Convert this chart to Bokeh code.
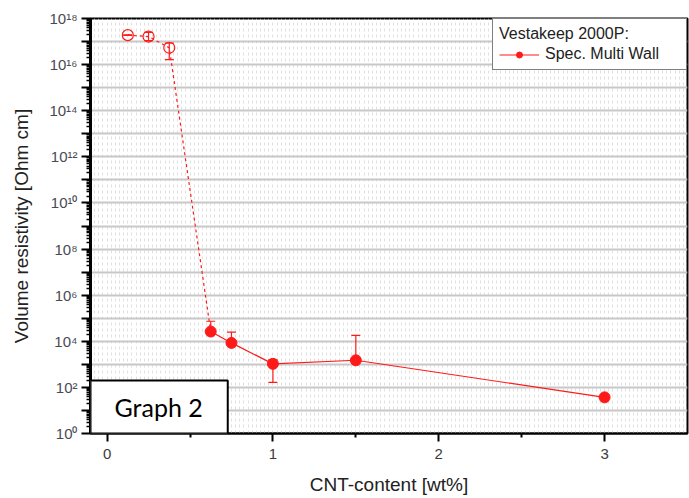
import numpy as np
from bokeh.plotting import figure
from bokeh.models import (Range1d, FixedTicker, CustomJSTickFormatter, Whisker, TeeHead,
                          ColumnDataSource, Legend, LegendItem, Label)
from bokeh.embed import file_html
from bokeh.resources import INLINE

# ---- data ----
open_x = [0.125, 0.25, 0.375]
open_y = [1.9e17, 1.65e17, 5.4e16]
open_lo = [1.85e17, 1.1e17, 1.65e16]
open_hi = [1.95e17, 2.5e17, 8.5e16]

filled_x = [0.625, 0.75, 1.0, 1.5, 3.0]
filled_y = [2.65e4, 8.5e3, 1.05e3, 1.5e3, 37.0]
filled_lo = [2.65e4, 8.5e3, 1.66e2, 1.5e3, 37.0]
filled_hi = [7.4e4, 2.5e4, 1.6e3, 1.8e4, 37.0]

x_ticks = [0, 1, 2, 3]
x_minor = [0.5, 1.5, 2.5]
y_exponents = list(range(0, 19))
y_tick_labels = ["10⁰", "", "10²", "", "10⁴", "", "10⁶", "", "10⁸", "",
                 "10¹⁰", "", "10¹²", "", "10¹⁴", "", "10¹⁶", "", "10¹⁸"]

legend_title = "Vestakeep 2000P:"
legend_label = "Spec. Multi Wall"
x_label = "CNT-content [wt%]"
y_label = "Volume resistivity [Ohm cm]"
graph_tag = "Graph 2"

RED = "#ff1a1a"

p = figure(width=689, height=498, y_axis_type="log",
           x_range=Range1d(-0.1, 3.5), y_range=Range1d(1, 1e18),
           output_backend="svg", toolbar_location=None,
           min_border_left=90, min_border_right=2, min_border_top=18, min_border_bottom=65)
p.background_fill_color = "white"
p.outline_line_color = "black"
p.outline_line_width = 2

# axes
label_font = "Liberation Sans"
p.xaxis.ticker = FixedTicker(ticks=x_ticks, minor_ticks=x_minor)
p.xaxis.axis_line_width = 2
p.xaxis.major_tick_out = 8
p.xaxis.major_tick_in = 0
p.xaxis.minor_tick_out = 4
p.xaxis.minor_tick_in = 0
p.xaxis.major_tick_line_width = 2
p.xaxis.minor_tick_line_width = 2
p.xaxis.major_label_text_font = label_font
p.xaxis.major_label_text_font_size = "15px"
p.xaxis.major_label_text_color = "#3c3c3c"
p.xaxis.major_label_standoff = 7
p.xaxis.axis_label = x_label
p.xaxis.axis_label_text_font = label_font
p.xaxis.axis_label_text_font_style = "normal"
p.xaxis.axis_label_text_font_size = "19px"
p.xaxis.axis_label_text_color = "#222222"
p.xaxis.axis_label_standoff = 12

p.yaxis.ticker = FixedTicker(ticks=[10.0 ** k for k in y_exponents],
                             minor_ticks=[m * 10.0 ** k for k in y_exponents[:-1] for m in range(2, 10)])
p.yaxis.formatter = CustomJSTickFormatter(args=dict(labels=y_tick_labels),
                                          code="const e = Math.round(Math.log10(tick)); const s = labels[e]; return (s === undefined) ? '' : s;")
p.yaxis.axis_line_width = 3
p.yaxis.major_tick_out = 9
p.yaxis.major_tick_in = 0
p.yaxis.minor_tick_out = 4
p.yaxis.minor_tick_in = 0
p.yaxis.major_tick_line_width = 2
p.yaxis.minor_tick_line_width = 1.5
p.yaxis.major_label_text_font = label_font
p.yaxis.major_label_text_font_size = "15px"
p.yaxis.major_label_text_color = "#4a4a55"
p.yaxis.major_label_standoff = 4
p.yaxis.axis_label = y_label
p.yaxis.axis_label_text_font = label_font
p.yaxis.axis_label_text_font_style = "normal"
p.yaxis.axis_label_text_font_size = "19px"
p.yaxis.axis_label_text_color = "#222222"
p.yaxis.axis_label_standoff = 14

# grids
p.ygrid.ticker = FixedTicker(ticks=[10.0 ** k for k in y_exponents])
p.ygrid.grid_line_color = "#c8c8c8"
p.ygrid.grid_line_width = 2
p.xgrid.ticker = FixedTicker(ticks=list(np.arange(-0.1, 3.5, 0.025)))
p.xgrid.grid_line_color = "#e0e0e0"
p.xgrid.grid_line_width = 1
p.xgrid.grid_line_dash = "3 3"

# data
p.line(open_x + filled_x[:1], open_y + filled_y[:1], line_color=RED, line_width=1.2, line_dash="3 3")
solid = p.line(filled_x, filled_y, line_color=RED, line_width=1.2)

src_o = ColumnDataSource(dict(x=open_x, y=open_y, lo=open_lo, hi=open_hi))
src_f = ColumnDataSource(dict(x=filled_x, y=filled_y, lo=filled_lo, hi=filled_hi))
for src in (src_o, src_f):
    w = Whisker(source=src, base="x", lower="lo", upper="hi", line_color=RED, line_width=1.2,
                upper_head=TeeHead(size=9, line_color=RED, line_width=1.2),
                lower_head=TeeHead(size=9, line_color=RED, line_width=1.2))
    p.add_layout(w)

p.scatter("x", "y", source=src_o, size=11, marker="circle", fill_color=None, line_color=RED, line_width=1.2)
dots = p.scatter("x", "y", source=src_f, size=11, marker="circle", fill_color=RED, line_color=RED)

legend = Legend(items=[LegendItem(label=legend_label, renderers=[solid, dots])],
                location="top_right", margin=0, padding=6, spacing=0,
                title=legend_title, title_text_font_style="normal", title_text_font=label_font,
                title_text_font_size="16px", title_text_color="#222222", title_standoff=2,
                label_text_font=label_font, label_text_font_size="16px", label_text_color="#222222",
                glyph_width=40, glyph_height=15, label_standoff=6, label_width=135,
                border_line_color="black", border_line_width=1.5, background_fill_alpha=1)
p.add_layout(legend)

tag = Label(x=0, y=0, x_units="screen", y_units="screen", text=graph_tag,
            anchor="bottom_left", text_font="Lato", text_font_size="25px", text_color="black",
            background_fill_color="white", border_line_color="black", border_line_width=2,
            padding=dict(left=24, right=25, top=11, bottom=12))
p.add_layout(tag)

open("out.html", "w").write(file_html(p, INLINE))
